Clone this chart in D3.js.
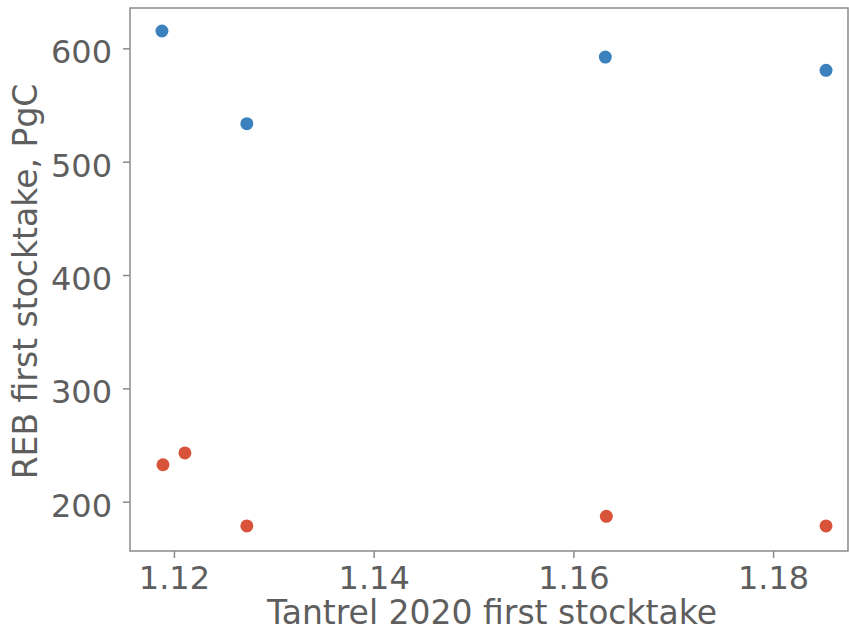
<!DOCTYPE html>
<html>
<head>
<meta charset="utf-8">
<script src="https://cdn.jsdelivr.net/npm/d3@7"></script>
<style>
  html, body { margin: 0; padding: 0; background: #fff; }
  svg { display: block; font-family: "DejaVu Sans", sans-serif; }
</style>
</head>
<body>
<svg id="chart" width="849" height="631"></svg>
<script>
// Data
const blueX = [1.1188, 1.1273, 1.1632, 1.1853];
const blueY = [615.3, 533.5, 592.3, 580.6];
const redX = [1.1189, 1.1211, 1.1273, 1.1633, 1.1853];
const redY = [232.6, 243.0, 178.6, 187.1, 178.6];
const xTicks = [1.12, 1.14, 1.16, 1.18];
const yTicks = [200, 300, 400, 500, 600];
const xLabel = "Tantrel 2020 first stocktake";
const yLabel = "REB first stocktake, PgC";

const svg = d3.select("#chart");
const m = { left: 130, right: 848, top: 8, bottom: 551 };
const x = d3.scaleLinear().domain([1.1156, 1.1875]).range([m.left, m.right]);
const y = d3.scaleLinear().domain([156.5, 635.6]).range([m.bottom, m.top]);

const textColor = "#5e5e5e";
const axisColor = "#8a8a8a";
const fs = "32px";
const lfs = "33px";

// frame
svg.append("rect")
  .attr("x", m.left).attr("y", m.top)
  .attr("width", m.right - m.left).attr("height", m.bottom - m.top)
  .attr("fill", "none").attr("stroke", axisColor).attr("stroke-width", 1.5);

const xAxis = svg.append("g").attr("transform", `translate(0,${m.bottom})`)
  .call(d3.axisBottom(x).tickValues(xTicks).tickFormat(d3.format(".2f")).tickSize(7).tickPadding(8));
const yAxis = svg.append("g").attr("transform", `translate(${m.left},0)`)
  .call(d3.axisLeft(y).tickValues(yTicks).tickFormat(d3.format("d")).tickSize(7).tickPadding(11));

[xAxis, yAxis].forEach(g => {
  g.select(".domain").remove();
  g.selectAll(".tick line").attr("stroke", axisColor).attr("stroke-width", 1.5);
  g.selectAll(".tick text").attr("fill", textColor).style("font-size", fs)
    .style("font-family", "'DejaVu Sans', sans-serif");
});
yAxis.selectAll(".tick text").attr("dy", "0.45em");

// points
svg.append("g").selectAll("circle")
  .data(blueX.map((d, i) => [d, blueY[i]]))
  .join("circle")
  .attr("cx", d => x(d[0])).attr("cy", d => y(d[1]))
  .attr("r", 6.5).attr("fill", "#3b81be");

svg.append("g").selectAll("circle")
  .data(redX.map((d, i) => [d, redY[i]]))
  .join("circle")
  .attr("cx", d => x(d[0])).attr("cy", d => y(d[1]))
  .attr("r", 6.5).attr("fill", "#d9533b");

// labels
svg.append("text")
  .attr("x", (m.left + m.right) / 2 + 3).attr("y", 624)
  .attr("text-anchor", "middle").attr("fill", textColor)
  .style("font-size", lfs).text(xLabel);

svg.append("text")
  .attr("transform", `translate(37,${(m.top + m.bottom) / 2 + 2}) rotate(-90)`)
  .attr("text-anchor", "middle").attr("fill", textColor)
  .style("font-size", lfs).text(yLabel);
</script>
</body>
</html>
